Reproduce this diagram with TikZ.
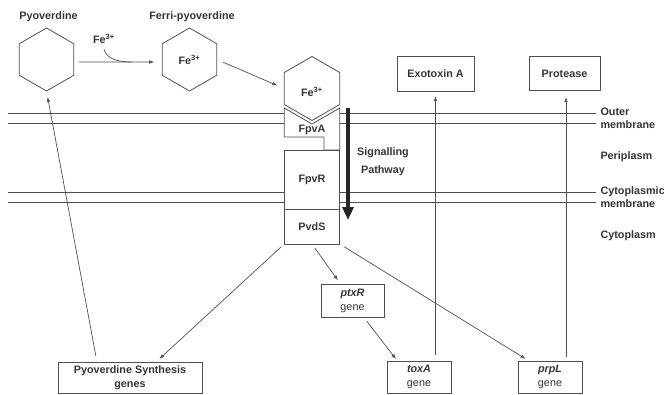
\documentclass[tikz,border=0pt]{standalone}
\usepackage{fontspec}
\setmainfont{Liberation Sans}
\usetikzlibrary{arrows.meta,shapes.geometric}
\definecolor{ln}{HTML}{505050}
\definecolor{tx}{HTML}{353535}
\begin{document}
\begin{tikzpicture}[x=1pt,y=-1pt,
  font=\fontsize{10.8}{14}\selectfont\bfseries,
  every node/.style={text=tx},
  hex/.style={regular polygon, regular polygon sides=6, shape border rotate=30, draw=ln, line width=0.8pt, inner sep=0pt, outer sep=0pt},
  gbox/.style={draw=ln, line width=0.8pt, inner sep=0pt, outer sep=0pt, align=center, fill=white},
  conn/.style={draw=ln, line width=0.7pt},
  arr/.style={conn, -{Latex[length=5pt,width=3.6pt]}},
  memb/.style={draw=ln, line width=0.8pt},
  side/.style={anchor=west, align=left, font=\fontsize{10.8}{12.5}\selectfont\bfseries}
]
\useasboundingbox (0,0) rectangle (664,394);

% membranes
\draw[memb] (8,113) -- (284.3,113) (339.7,113) -- (596,113);
\draw[memb] (8,123) -- (284.3,123) (339.7,123) -- (596,123);
\draw[memb] (8,192) -- (284.3,192) (339.7,192) -- (596,192);
\draw[memb] (8,202) -- (284.3,202) (339.7,202) -- (596,202);

% hexagons
\node[hex, minimum size=63pt] (pyo) at (46.5,59.5) {};
\node[hex, minimum size=63pt] (ferri) at (189.5,59.5) {Fe\textsuperscript{3+}};
\node[hex, minimum size=64pt, fill=white] (fehex) at (312,88.5) {};
\node (fetxt) at (312,92) {Fe\textsuperscript{3+}};

\node (lpyo) at (48.5,17) {Pyoverdine};
\node (lferri) at (192,17) {Ferri-pyoverdine};
\node (lfe) at (104,39) {Fe\textsuperscript{3+}};

% receptor
\draw[draw=ln, line width=0.8pt, fill=white] (284.3,108) -- (312,124) -- (339.7,108) -- (339.7,150) -- (324,150) -- (324,137) -- (284.3,137) -- cycle;
\node (fpva) at (312,129.5) {FpvA};
\node[gbox, minimum width=55.4pt, minimum height=59pt] (fpvr) at (312,179.5) {FpvR};
\node[gbox, minimum width=55.4pt, minimum height=35pt] (pvds) at (312,226.5) {PvdS};

% signalling arrow
\coordinate (sigtop) at (348,108);
\coordinate (sigbot) at (348,220);
\draw[line width=3.6pt, draw=black!85, -{Triangle[length=13pt,width=11pt]}] (sigtop) -- (sigbot);
\node[align=center, font=\fontsize{10.8}{18}\selectfont\bfseries] (sig) at (383,162) {Signalling\\Pathway};

% side labels
\node[side] (outer) at (597,118.5) {Outer\\membrane};
\node[side] (peri) at (597,157) {Periplasm};
\node[side] (cytm) at (597,197) {Cytoplasmic\\membrane};
\node[side] (cyto) at (597,236) {Cytoplasm};

% products
\node[gbox, minimum width=77pt, minimum height=35pt] (exo) at (435.5,73.5) {Exotoxin A};
\node[gbox, minimum width=71pt, minimum height=34pt] (prot) at (564.5,73.5) {Protease};

% genes
\node[gbox, minimum width=63pt, minimum height=33pt] (ptxr) at (352.5,300.5) {\itshape ptxR\\\mdseries gene};
\node[gbox, minimum width=144pt, minimum height=31pt] (pys) at (130,377.5) {Pyoverdine Synthesis\\genes};
\node[gbox, minimum width=64pt, minimum height=32pt] (toxa) at (419,377) {\itshape toxA\\\mdseries gene};
\node[gbox, minimum width=64pt, minimum height=32pt] (prpl) at (550,377) {\itshape prpL\\\mdseries gene};

% connectors
\coordinate (merge) at (132,62);
\draw[arr, shorten <=5pt, shorten >=8pt] ([yshift=-2.5pt]pyo.east) -- ([yshift=-2.5pt]ferri.west);
\draw[conn] ([yshift=-2pt]lfe.south) .. controls (106,57) and (114,62) .. (merge);
\draw[arr, shorten <=7pt, shorten >=7.5pt] (ferri.east) -- (fehex.west);
\draw[arr, shorten <=4pt, shorten >=4.5pt] (pvds.south west) -- ([xshift=26pt]pys.north);
\draw[arr, shorten <=5pt, shorten >=4.5pt] (pvds.south) -- ([xshift=-12pt]ptxr.north);
\draw[arr, shorten <=5pt, shorten >=4pt] (pvds.south east) -- ([xshift=-21pt]prpl.north);
\draw[arr, shorten <=5pt, shorten >=2.5pt] ([xshift=11pt]ptxr.south) -- ([xshift=-21.5pt]toxa.north);
\draw[arr, shorten <=6pt, shorten >=5pt] (toxa.north -| exo.south) -- (exo.south);
\draw[arr, shorten <=4pt, shorten >=7pt] (prpl.north -| 566,0) -- (566,90);
\draw[arr, shorten <=6pt, shorten >=6pt] ([xshift=-33pt]pys.north) -- (pyo.south);
\end{tikzpicture}
\end{document}
